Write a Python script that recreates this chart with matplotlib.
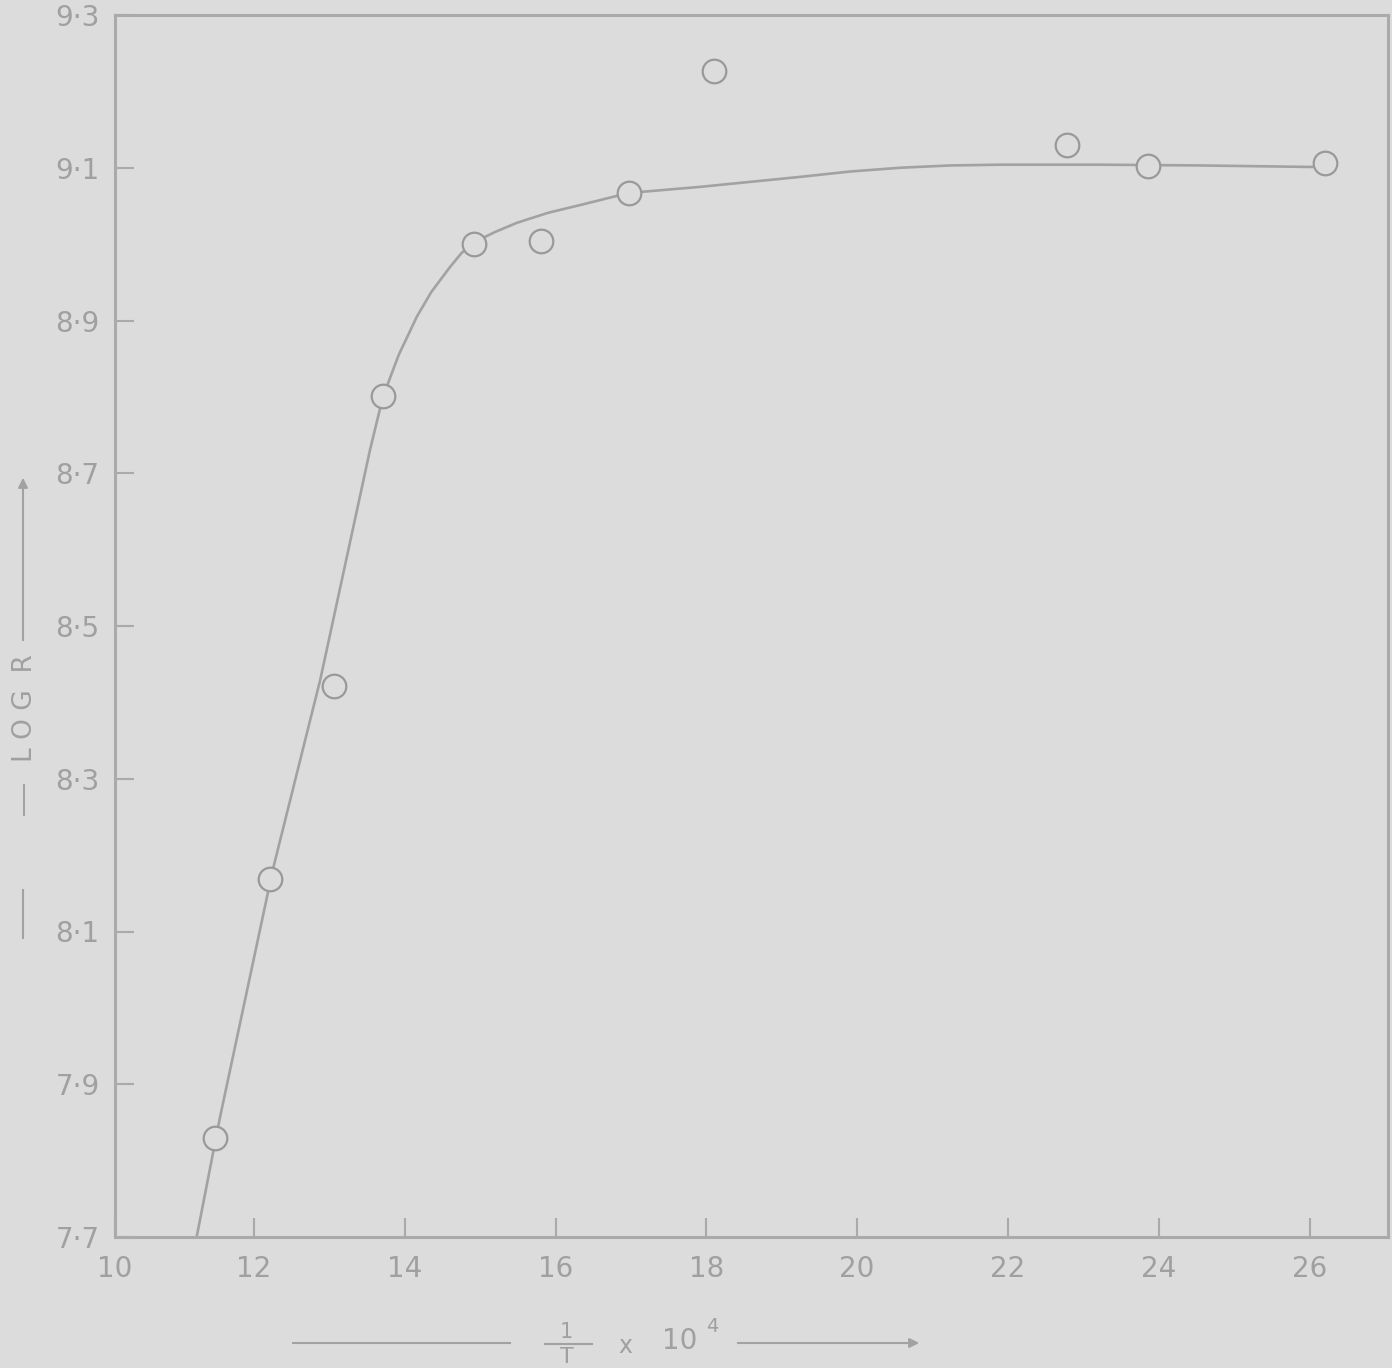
#!/usr/bin/env python3
# --------------------------------------------------------------------------- #
#   Log R against 1/T x 10^4 : measured points and the hand drawn fit curve   #
# --------------------------------------------------------------------------- #
import numpy as np
import matplotlib
matplotlib.use('Agg')
import matplotlib.pyplot as plt
from matplotlib.lines import Line2D

# --------------------------------------------------------------------------- #

inv_t = [11.48, 12.21, 13.06, 13.71, 14.92, 15.81, 16.97, 18.10, 22.78, 23.86,
         26.20]
log_r = [7.830, 8.169, 8.421, 8.801, 9.000, 9.004, 9.067, 9.227, 9.130, 9.102,
         9.106]

# Points along the drawn curve.
curve_x = [11.24, 11.55, 12.25, 12.88, 13.54, 13.71, 13.92, 14.16, 14.35,
           14.60, 14.75, 14.91, 15.20, 15.49, 15.90, 16.36, 16.97, 17.92,
           19.24, 19.90, 20.57, 21.23, 21.89, 23.22, 24.55, 26.05]
curve_y = [7.700, 7.857, 8.181, 8.430, 8.731, 8.800, 8.855, 8.905, 8.937,
           8.970, 8.988, 9.002, 9.016, 9.028, 9.041, 9.052, 9.067, 9.075,
           9.088, 9.095, 9.100, 9.103, 9.104, 9.104, 9.103, 9.101]

# Axis ticks.
x_ticks = [10.157, 12, 14, 16, 18, 20, 22, 24, 26]
x_labels = ['10', '12', '14', '16', '18', '20', '22', '24', '26']
y_ticks = [7.7, 7.9, 8.1, 8.3, 8.5, 8.7, 8.9, 9.1, 9.3]
y_labels = ['7·7', '7·9', '8·1', '8·3', '8·5', '8·7', '8·9', '9·1', '9·3']

# --------------------------------------------------------------------------- #

W, H = 1392., 1368.
bg = '#dcdcdc'
ink = '#a2a2a2'
txt = '#a0a0a0'
fam = ['Liberation Sans Narrow', 'DejaVu Sans']


def fp(px, py):
    # pixel position -> figure fraction
    return (px / W, 1. - py / H)


fig = plt.figure(figsize=(W / 100., H / 100.), dpi=100, facecolor=bg)
ax = fig.add_axes([115. / W, 1. - 1237. / H, 1273. / W, 1222. / H])
ax.set_facecolor(bg)

# Fit curve and the measured points.
ax.plot(curve_x, curve_y, color=ink, lw=1.9, solid_capstyle='butt', zorder=2)
ax.plot(inv_t, log_r, 'o', ms=17, mfc=bg, mec='#999999', mew=1.6, zorder=3)

ax.set_xlim(10.157, 27.04)
ax.set_ylim(7.7, 9.3)

ax.set_xticks(x_ticks)
ax.set_xticklabels(x_labels)
ax.set_yticks(y_ticks)
ax.set_yticklabels(y_labels)

for s in ax.spines.values():
    s.set_color('#aaaaaa')
    s.set_linewidth(2.2)

ax.tick_params(axis='both', direction='in', length=14, width=1.5,
               colors='#aaaaaa', labelcolor=txt, labelsize=20)
ax.tick_params(axis='x', pad=13)
ax.tick_params(axis='y', pad=11)
for lab in ax.get_xticklabels() + ax.get_yticklabels():
    lab.set_family(fam)

# --------------------------------------------------------------------------- #
# Horizontal axis label: ----  1/T x 10^4  ---->
fig.add_artist(Line2D([fp(293, 0)[0], fp(510, 0)[0]], [fp(0, 1343)[1]] * 2,
                      transform=fig.transFigure, color=ink, lw=1.5))
fig.add_artist(Line2D([fp(545, 0)[0], fp(592, 0)[0]], [fp(0, 1344)[1]] * 2,
                      transform=fig.transFigure, color=ink, lw=1.5))
fig.text(*fp(566, 1332), '1', color=txt, fontsize=15, ha='center',
         va='center', family=fam)
fig.text(*fp(567, 1357), 'T', color=txt, fontsize=16, ha='center',
         va='center', family=fam)
fig.text(*fp(625, 1346), 'x', color=txt, fontsize=17, ha='center',
         va='center', family=fam)
fig.text(*fp(680, 1341), '10', color=txt, fontsize=20, ha='center',
         va='center', family=fam)
fig.text(*fp(712, 1327), '4', color=txt, fontsize=14, ha='center',
         va='center', family=fam)
fig.add_artist(plt.Annotation('', xy=fp(922, 1343), xytext=fp(735, 1343),
                              xycoords='figure fraction',
                              textcoords='figure fraction',
                              arrowprops=dict(arrowstyle='-|>', color=ink,
                                              lw=1.5, mutation_scale=14)))

# Vertical axis label: - LOG R ---->
fig.add_artist(Line2D([fp(23, 0)[0]] * 2, [fp(0, 890)[1], fp(0, 938)[1]],
                      transform=fig.transFigure, color=ink, lw=1.5))
fig.add_artist(Line2D([fp(24, 0)[0]] * 2, [fp(0, 785)[1], fp(0, 815)[1]],
                      transform=fig.transFigure, color=ink, lw=1.5))
fig.text(*fp(25, 708), 'L O G  R', color=txt, fontsize=19, rotation=90,
         ha='center', va='center', family=fam)
fig.add_artist(plt.Annotation('', xy=fp(23, 475), xytext=fp(23, 643),
                              xycoords='figure fraction',
                              textcoords='figure fraction',
                              arrowprops=dict(arrowstyle='-|>', color=ink,
                                              lw=1.5, mutation_scale=14)))

# Save it.
fig.savefig('out.png', dpi=100, facecolor=bg)

#--------------------------------------------------------------------------- #
